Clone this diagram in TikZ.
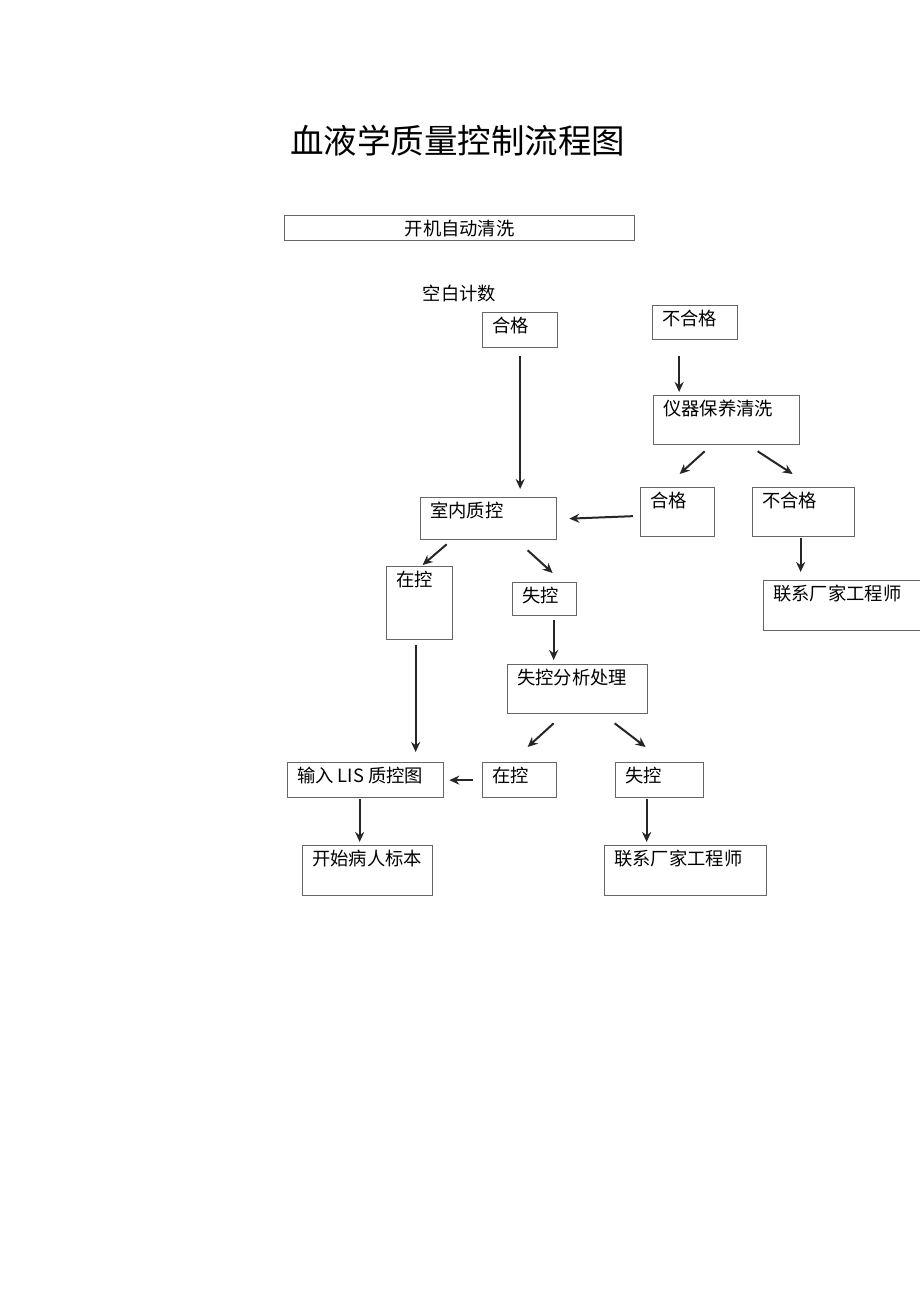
\documentclass[tikz,border=0pt]{standalone}
\usepackage{fontspec}
\setmainfont{Noto Sans CJK SC}
\usetikzlibrary{calc,arrows.meta}

\tikzset{
  qbox/.style={draw=black!60, line width=1.3pt, anchor=north west, inner sep=0pt},
  qtxt/.style={anchor=north west, inner sep=0pt, xshift=10pt, yshift=-5pt, font=\fontsize{18.3pt}{20pt}\selectfont},
  qarr/.style={->, line width=2pt, black!85}
}

\begin{document}
\begin{tikzpicture}[x=1pt, y=-1pt, >={Stealth[length=10pt,width=9pt]}]
\clip (0,0) rectangle (920,1301);
\fill [white] (0,0) rectangle (920,1301);

% titre et premiere etape
\node[font=\fontsize{33.5pt}{36pt}\selectfont] (titre) at (457.5,141) {血液学质量控制流程图};
\node[qbox, minimum width=350pt, minimum height=25pt, font=\fontsize{18.3pt}{20pt}\selectfont] (qx) at (284,215) {开机自动清洗};
\node[font=\fontsize{18.3pt}{20pt}\selectfont] (kb) at (459.5,294) {空白计数};

% cadres
\node[qbox, minimum width=75pt, minimum height=35pt] (hg1) at (482,312) {};
\node[qtxt] (hg1t) at (hg1.north west) {合格};
\node[qbox, minimum width=85pt, minimum height=34pt] (bhg1) at (652,305) {};
\node[qtxt] (bhg1t) at (bhg1.north west) {不合格};
\node[qbox, minimum width=146pt, minimum height=49pt] (yq) at (653,395) {};
\node[qtxt] (yqt) at (yq.north west) {仪器保养清洗};
\node[qbox, minimum width=74pt, minimum height=49pt] (hg2) at (640,487) {};
\node[qtxt] (hg2t) at (hg2.north west) {合格};
\node[qbox, minimum width=102pt, minimum height=49pt] (bhg2) at (752,487) {};
\node[qtxt] (bhg2t) at (bhg2.north west) {不合格};
\node[qbox, minimum width=200pt, minimum height=50pt] (lx1) at (763,580) {};
\node[qtxt] (lx1t) at (lx1.north west) {联系厂家工程师};
\node[qbox, minimum width=136pt, minimum height=42pt] (sn) at (420,497) {};
\node[qtxt] (snt) at (sn.north west) {室内质控};
\node[qbox, minimum width=66pt, minimum height=73pt] (zk1) at (386,566) {};
\node[qtxt] (zk1t) at (zk1.north west) {在控};
\node[qbox, minimum width=64pt, minimum height=33pt] (sk1) at (512,582) {};
\node[qtxt] (sk1t) at (sk1.north west) {失控};
\node[qbox, minimum width=140pt, minimum height=49pt] (fx) at (507,664) {};
\node[qtxt] (fxt) at (fx.north west) {失控分析处理};
\node[qbox, minimum width=156pt, minimum height=35pt] (sr) at (287,762) {};
\node[qtxt] (srt) at (sr.north west) {输入 LIS 质控图};
\node[qbox, minimum width=74pt, minimum height=35pt] (zk2) at (482,762) {};
\node[qtxt] (zk2t) at (zk2.north west) {在控};
\node[qbox, minimum width=88pt, minimum height=35pt] (sk2) at (615,762) {};
\node[qtxt] (sk2t) at (sk2.north west) {失控};
\node[qbox, minimum width=162pt, minimum height=50pt] (lx2) at (604,845) {};
\node[qtxt] (lx2t) at (lx2.north west) {联系厂家工程师};
\node[qbox, minimum width=130pt, minimum height=50pt] (ks) at (302,845) {};
\node[qtxt] (kst) at (ks.north west) {开始病人标本};

% fleches
\draw [qarr] ($(hg1.south)+(0,8)$) -- ($(hg1.south |- sn.north)+(0,-8)$);
\draw [qarr] ($(bhg1.south)+(-16,16)$) -- ($(bhg1.south |- yq.north)+(-16,-3)$);
\draw [qarr] ($(yq.south)+(-22,6)$) -- ($(hg2.north)+(2,-13)$);
\draw [qarr] ($(yq.south)+(31,6)$) -- ($(bhg2.north)+(-11,-13)$);
\draw [qarr] ($(hg2.west)+(-7,4)$) -- ($(sn.east)+(12,0)$);
\draw [qarr] ($(bhg2.south)+(-3,1)$) -- ($(bhg2.south |- lx1.north)+(-3,-8)$);
\draw [qarr] ($(sn.south)+(-42,4)$) -- ($(zk1.north)+(3,-1)$);
\draw [qarr] ($(sn.south)+(39,10)$) -- ($(sk1.north)+(8,-9)$);
\draw [qarr] ($(zk1.south)+(-4,5)$) -- ($(zk1.south |- sr.north)+(-4,-10)$);
\draw [qarr] ($(sk1.south)+(9,4)$) -- ($(sk1.south |- fx.north)+(9,-4)$);
\draw [qarr] ($(fx.south)+(-24,9)$) -- ($(zk2.north)+(8,-15)$);
\draw [qarr] ($(fx.south)+(37,9)$) -- ($(sk2.north)+(-14,-15)$);
\draw [qarr] ($(zk2.west)+(-9,0)$) -- ($(sr.east)+(5,0)$);
\draw [qarr] ($(sk2.south)+(-13,1)$) -- ($(sk2.south |- lx2.north)+(-13,-3)$);
\draw [qarr] ($(sr.south)+(-6,1)$) -- ($(sr.south |- ks.north)+(-6,-3)$);

\end{tikzpicture}
\end{document}
